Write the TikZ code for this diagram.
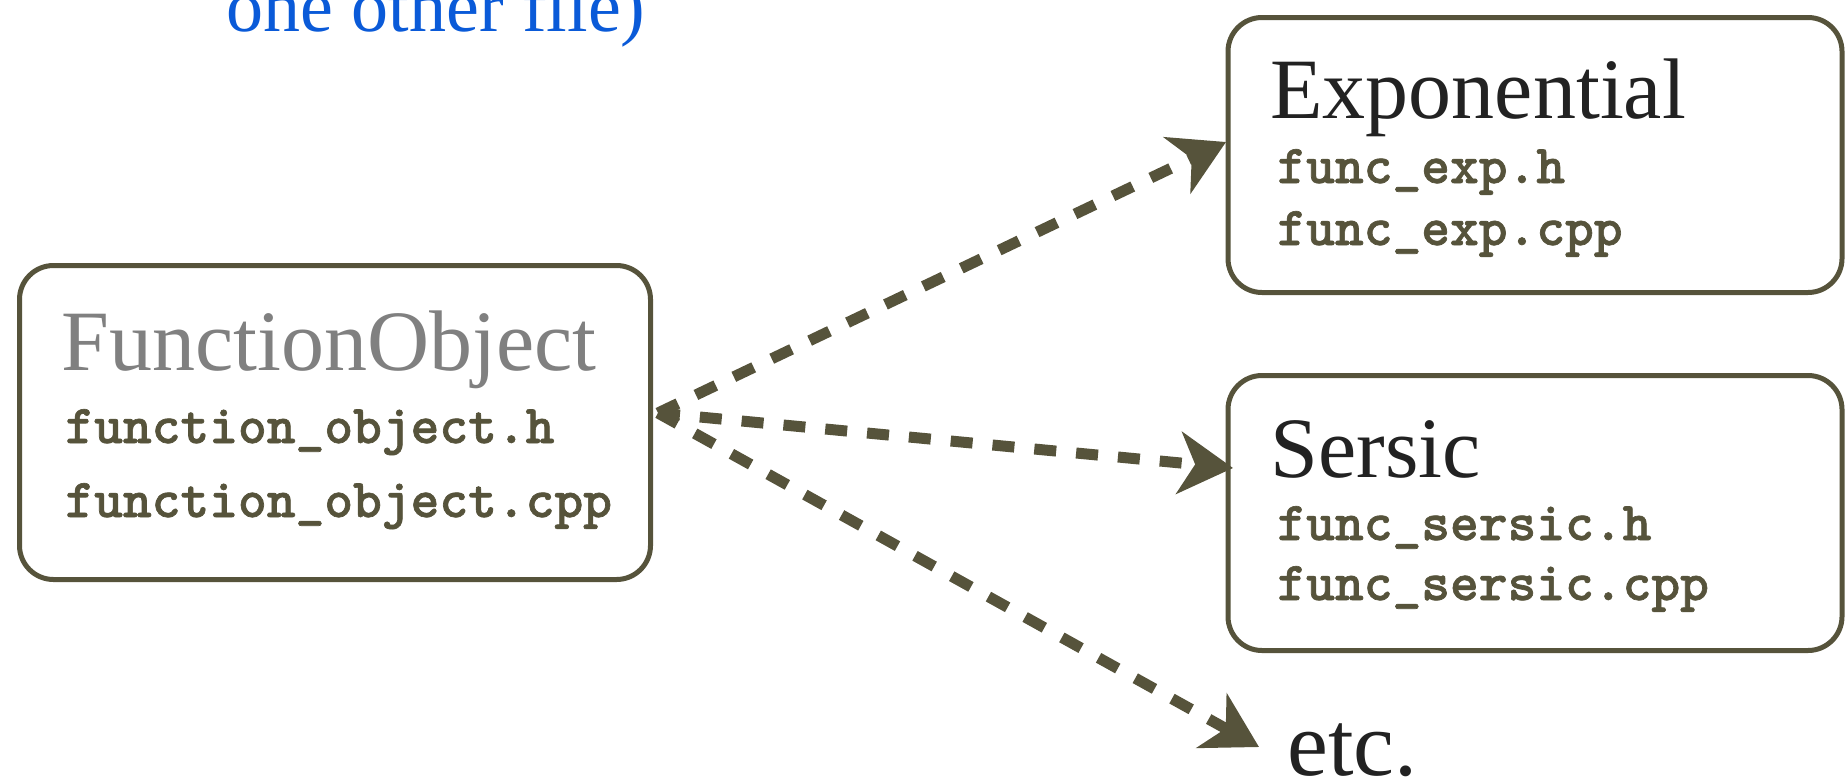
\documentclass[tikz,border=0pt]{standalone}
\usepackage{fontspec}
\setmainfont{Liberation Serif}
\newfontfamily\codefont{lmmonolt10-bold.otf}[FakeBold=1.2]
\usetikzlibrary{arrows.meta}
\definecolor{olive}{HTML}{56533B}
\definecolor{titlegrey}{HTML}{808080}
\definecolor{titledark}{HTML}{222222}
\definecolor{noteblue}{HTML}{0A5AD8}
\tikzset{
  box/.style={draw=olive, line width=2.5pt, rounded corners=17pt, fill=white, inner sep=0pt},
  titletxt/.style={anchor=base west, inner sep=0pt, font=\fontsize{43pt}{43pt}\selectfont},
  filetxt/.style={anchor=base west, inner sep=0pt, text=olive, font=\fontsize{27.4pt}{27.4pt}\selectfont\codefont\bfseries},
  link/.style={draw=olive, line width=5.5pt, dash pattern=on 11pt off 10pt,
    -{Stealth[length=27pt, width=31pt, inset=8pt]}},
}
\begin{document}
\begin{tikzpicture}[x=0.5pt, y=-0.5pt]
\useasboundingbox (0,0) rectangle (1845,777);
\clip (0,0) rectangle (1845,777);
% note at top
\node[anchor=base west, inner sep=0pt, text=noteblue, font=\fontsize{37pt}{37pt}\selectfont] (note) at (226,31) {one other file)};
% boxes
\node[box, minimum width=315.5pt, minimum height=157pt] (fo) at (335,422.5) {};
\node[box, minimum width=307pt, minimum height=137.5pt] (exp) at (1535,155) {};
\node[box, minimum width=307pt, minimum height=137.5pt] (ser) at (1535,513) {};
% texts
\node[titletxt, text=titlegrey] (fot) at (61,370) {FunctionObject};
\node[filetxt] (foh) at (65,443) {function\_object.h};
\node[filetxt] (foc) at (65,517) {function\_object.cpp};
\node[titletxt, text=titledark] (expt) at (1270,118) {Exponential};
\node[filetxt] (exph) at (1277,183) {func\_exp.h};
\node[filetxt] (expc) at (1277,245) {func\_exp.cpp};
\node[titletxt, text=titledark] (sert) at (1270,477) {Sersic};
\node[filetxt] (serh) at (1277,540) {func\_sersic.h};
\node[filetxt] (serc) at (1277,600) {func\_sersic.cpp};
\node[anchor=base west, inner sep=0pt, text=titledark, font=\fontsize{46pt}{46pt}\selectfont] (etc) at (1287,775) {etc.};
% connectors
\coordinate (src) at (658,413);
\coordinate (exptip) at (1226,142);
\coordinate (sertip) at (1233,468);
\coordinate (etctip) at (1259,747);
\draw[link] (src) -- (exptip);
\draw[link] (src) -- (sertip);
\draw[link] (src) -- (etctip);
\end{tikzpicture}
\end{document}
